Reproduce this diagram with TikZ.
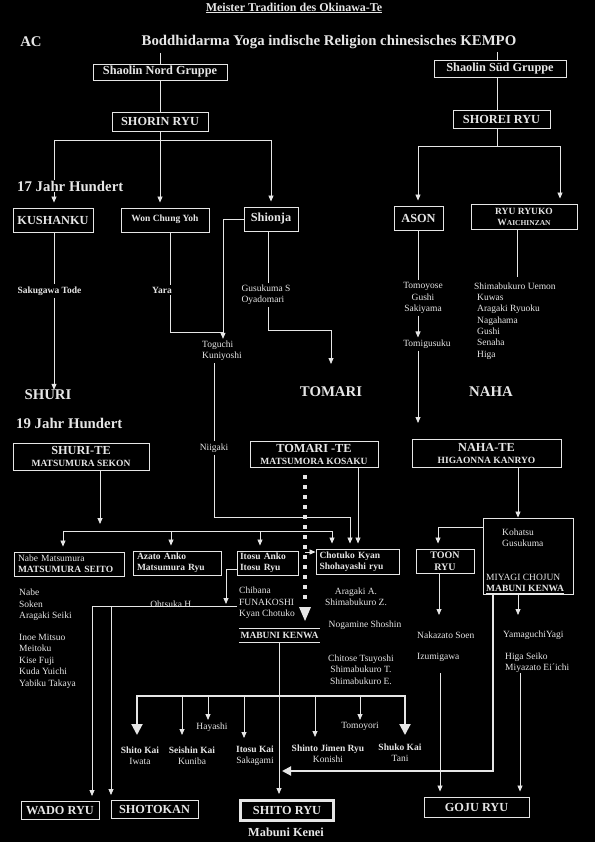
\documentclass[tikz,border=0pt]{standalone}
\usepackage{fontspec}
\setmainfont{Liberation Serif}
\usetikzlibrary{arrows.meta}
\definecolor{fg}{RGB}{230,230,230}
\begin{document}
\begin{tikzpicture}[x=1pt,y=-1pt,
  every node/.style={text=fg, inner sep=0pt},
  ln/.style={draw=fg, line width=0.8pt},
  ar/.style={ln, -{Triangle[width=5pt,length=6pt]}},
  arb/.style={ar, shorten >=5pt},
  thk/.style={draw=fg, line width=2pt},
  box/.style={draw=fg, line width=0.9pt, fill=black, align=center},
  fbig/.style={font=\fontsize{14.8}{16}\selectfont\bfseries},
  flab/.style={font=\fontsize{12.3}{13}\selectfont\bfseries},
  fsb/.style={font=\fontsize{9.5}{11}\selectfont\bfseries, inner ysep=2pt},
  fnm/.style={font=\fontsize{9.5}{11.3}\selectfont, inner ysep=2pt},
  ttl/.style={font=\fontsize{12}{13}\selectfont\bfseries},
]
\fill[black] (0,0) rectangle (595,842);
\useasboundingbox (0,0) rectangle (595,842);

% ---------- header ----------
\node[ttl] (title) at (294,8) {\underline{Meister Tradition des Okinawa-Te}};
\node[fbig] (ac) at (31,42) {AC};
\node[fbig] (bodh) at (329,42) {Boddhidarma Yoga indische Religion chinesisches KEMPO};

\node[box, flab, minimum width=134pt, minimum height=16pt] (nord) at (160,72) {Shaolin Nord Gruppe};
\node[box, flab, minimum width=132pt, minimum height=17pt] (sud) at (500,68.5) {Shaolin Süd Gruppe};
\coordinate (tk1) at (160,53);
\coordinate (tk2) at (497,52);
\coordinate (sv) at (497,90);
\draw[ln] (tk1) -- (nord.north);
\draw[ln] (tk2) -- (tk2 |- sud.north);

\node[box, flab, minimum width=96pt, minimum height=19pt] (shorin) at (160,121.5) {SHORIN RYU};
\node[box, flab, minimum width=97pt, minimum height=18pt] (shorei) at (501.5,119) {SHOREI RYU};
\draw[ln] (nord.south) -- (shorin.north);
\draw[ln] (sud.south -| sv) -- (sv |- shorei.north);

% ---------- 17th century row ----------
\node[box, flab, minimum width=80pt, minimum height=24pt] (kushanku) at (53,220) {KUSHANKU};
\node[box, fsb, minimum width=88pt, minimum height=24pt] (won) at (165,220) {\raisebox{3pt}{Won Chung Yoh}};
\node[box, flab, minimum width=54pt, minimum height=24pt] (shionja) at (271,219) {Shionja};
\node[box, flab, minimum width=49pt, minimum height=24pt] (ason) at (418.5,218) {ASON};
\node[box, font=\fontsize{9.5}{11}\selectfont\bfseries, minimum width=106pt, minimum height=25pt] (ryuryuko) at (524,216.5)
  {RYU RYUKO\\{\fontsize{9.5}{11}\selectfont W}{\fontsize{7.5}{11}\selectfont AICHINZAN}};

\coordinate (j1) at (160,140);
\coordinate (jL) at (54,140);
\coordinate (jR) at (271,140);
\draw[ln] (shorin.south) -- (j1);
\draw[ln] (jL) -- (jR);
\draw[arb] (jL) -- (jL |- kushanku.north);
\draw[arb] (j1) -- (j1 |- won.north);
\draw[arb] (jR) -- (jR |- shionja.north);
\node[fbig, fill=black, anchor=west, inner sep=1pt] (jh17) at (16,186) {17 Jahr Hundert};

\coordinate (s1) at (497,146);
\coordinate (sL) at (418,146);
\coordinate (sR) at (560,146);
\draw[ln] (shorei.south -| s1) -- (s1);
\draw[ln] (sL) -- (sR);
\draw[arb] (sL) -- (sL |- ason.north);
\draw[arb] (sR) -- (sR |- ryuryuko.north);

% ---------- lineages ----------
\node[fsb] (sakugawa) at (49.5,291) {Sakugawa Tode};
\node[fbig] (shuri) at (48,395) {SHURI};
\draw[ln] (kushanku.south -| jL) -- (jL |- sakugawa.north);
\draw[ar] (sakugawa.south -| jL) -- (jL |- shuri.north);

\node[fsb] (yara) at (162,290) {Yara};
\node[fnm, align=left] (toguchi) at (222,351) {Toguchi\\Kuniyoshi};
\coordinate (yx) at (170,300);
\coordinate (tg) at (223,332);
\draw[ln] (won.south -| yx) -- (yara.north -| yx);
\draw[ln] (yara.south -| yx) -- (yx |- tg) -- (tg);
\coordinate (sx) at (223,219);
\draw[ar] (shionja.west) -- (sx) -- (sx |- toguchi.north);

\node[fnm, align=left] (gusukuma) at (266,295) {Gusukuma S\\Oyadomari};
\node[fbig] (tomari) at (331,392) {TOMARI};
\coordinate (gx) at (268,330);
\coordinate (tm) at (331,330);
\coordinate (tm2) at (331,364);
\draw[ln] (shionja.south -| gx) -- (gx |- gusukuma.north);
\draw[ar] (gusukuma.south -| gx) -- (gx) -- (tm) -- (tm2);

\node[fnm, align=center] (tomoyose) at (423,298) {Tomoyose\\Gushi\\Sakiyama};
\node[fnm] (tomigusuku) at (427,344) {Tomigusuku};
\node[fbig] (naha) at (491,392) {NAHA};
\coordinate (ax) at (418,300);
\coordinate (nh) at (418,423);
\draw[ln] (ason.south -| ax) -- (ax |- tomoyose.north);
\draw[ar] (tomoyose.south -| ax) -- (ax |- tomigusuku.north);
\draw[ar] (tomigusuku.south -| ax) -- (nh);

\coordinate (rx) at (517,277);
\draw[ln] (ryuryuko.south -| rx) -- (rx);
\node[fnm, align=left, anchor=west] (uemon) at (474,321)
  {Shimabukuro Uemon\\\hspace*{3pt}Kuwas\\\hspace*{3pt}Aragaki Ryuoku\\\hspace*{3pt}Nagahama\\\hspace*{3pt}Gushi\\\hspace*{3pt}Senaha\\\hspace*{3pt}Higa};

% ---------- 19th century ----------
\node[fbig, anchor=west] (jh19) at (16,423) {19 Jahr Hundert};
\node[box, font=\fontsize{9.5}{12}\selectfont\bfseries, minimum width=136pt, minimum height=27pt] (shurite) at (81,456.5)
  {{\fontsize{12.3}{12}\selectfont SHURI-TE}\\MATSUMURA SEKON};
\node[box, font=\fontsize{9.5}{12}\selectfont\bfseries, minimum width=128pt, minimum height=26pt] (tomarite) at (314,454)
  {{\fontsize{12.3}{12}\selectfont TOMARI -TE}\\MATSUMORA KOSAKU};
\node[box, font=\fontsize{9.5}{12}\selectfont\bfseries, minimum width=149pt, minimum height=28pt] (nahate) at (486.5,453)
  {{\fontsize{12.3}{12}\selectfont NAHA-TE}\\HIGAONNA KANRYO};

\node[fnm] (niigaki) at (214,448) {Niigaki};
\draw[ln] (toguchi.south -| niigaki.north) -- (niigaki.north);

% ---------- second level boxes ----------
\node[box, fsb, align=left, text width=102pt, minimum width=110pt, minimum height=24pt] (seito) at (69,564)
  {{\mdseries Nabe Matsumura}\\MATSUMURA SEITO};
\node[box, fsb, align=left, text width=80pt, minimum width=88pt, minimum height=24pt] (azato) at (177,563)
  {Azato Anko\\Matsumura Ryu};
\node[box, fsb, align=left, text width=55pt, minimum width=61pt, minimum height=24pt] (itosu) at (267.5,563)
  {Itosu Anko\\Itosu Ryu};
\node[box, fsb, align=left, text width=76pt, minimum width=83pt, minimum height=25pt] (chotuko) at (357.5,561.5)
  {Chotuko Kyan\\Shohayashi ryu};

% SHURI-TE distribution
\coordinate (sd) at (100,524);
\draw[ar] (shurite.south -| sd) -- (sd);
\coordinate (h1) at (63,531);
\coordinate (h2) at (171,531);
\coordinate (h3) at (260,531);
\coordinate (h4) at (332,531);
\draw[ln] (h1) -- (h4);
\draw[arb] (h1) -- (h1 |- seito.north);
\draw[arb] (h2) -- (h2 |- azato.north);
\draw[arb] (h3) -- (h3 |- itosu.north);
\draw[arb] (h4) -- (h4 |- chotuko.north);

% Niigaki line
\coordinate (nb) at (214,517);
\coordinate (nc) at (350,517);
\draw[arb] (niigaki.south) -- (nb) -- (nc) -- (nc |- chotuko.north);
% TOMARI-TE right line
\coordinate (tr) at (358,500);
\draw[arb] (tomarite.south -| tr) -- (tr |- chotuko.north);

% dotted line of TOMARI-TE
\coordinate (d1) at (305,475);
\coordinate (d2) at (305,604);
\draw[fg, line width=4pt, dash pattern=on 4pt off 6pt] (d1) -- (d2);
\coordinate (dt1) at (299,607);
\coordinate (dt2) at (311,607);
\coordinate (dt3) at (305,621);
\fill[fg] (dt1) -- (dt2) -- (dt3) -- cycle;
\coordinate (dr) at (305,552);
\draw[ar] (dr) -- (dr -| chotuko.west);

% Itosu -> Funakoshi / Ohtsuka
\coordinate (il) at (226,569);
\coordinate (ib) at (226,604);
\draw[ar] (itosu.west |- il) -- (il) -- (ib);
\coordinate (o1) at (92,606);
\coordinate (o3) at (111,606);
\coordinate (o2) at (237,606);
\draw[ln] (o1) -- (o2);
\node[fnm] (ohtsuka) at (172,604) {Ohtsuka H.};

\node[fnm, align=left, anchor=west] (chibana) at (239,603) {Chibana\\FUNAKOSHI\\Kyan Chotuko};
\node[fsb, minimum width=81pt, minimum height=13pt] (mabuni) at (279.5,635.5) {MABUNI KENWA};
\draw[ln] (mabuni.north west) -- (mabuni.north east);
\draw[ln] (mabuni.south west) -- (mabuni.south east);

% left lists
\node[fnm, align=left, anchor=west] (nabe) at (19,605) {Nabe\\Soken\\Aragaki Seiki};
\node[fnm, align=left, anchor=west, font=\fontsize{9.5}{11.5}\selectfont] (inoe) at (19,661) {Inoe Mitsuo\\Meitoku\\Kise Fuji\\Kuda Yuichi\\Yabiku Takaya};

% middle lists
\node[fnm, align=center] (aragaki) at (356,596.5) {Aragaki A.\\Shimabukuro Z.};
\node[fnm] (nogamine) at (365,625) {Nogamine Shoshin};
\node[fnm, align=center] (chitose) at (361,669.5) {Chitose Tsuyoshi\\Shimabukuro T.\\Shimabukuro E.};

% ---------- Naha branch ----------
\node[box, minimum width=90pt, minimum height=76pt] (miyagi) at (528,556) {};
\node[fnm, align=left, anchor=west] (kohatsu) at (502,537.5) {Kohatsu\\Gusukuma};
\node[fnm, align=left, anchor=west] (chojun) at (486,584) {MIYAGI CHOJUN\\\textbf{\underline{MABUNI KENWA}}};
\coordinate (nx) at (518,500);
\draw[ar] (nahate.south -| nx) -- (nx |- miyagi.north);

\node[box, align=center, font=\fontsize{10}{12}\selectfont\bfseries, minimum width=58pt, minimum height=24pt] (toon) at (445,561) {TOON\\RYU};
\coordinate (tl) at (438,527);
\draw[arb] (miyagi.west |- tl) -- (tl) -- (tl |- toon.north);

\coordinate (tx) at (439,615);
\draw[ar] (toon.south -| tx) -- (tx);
\node[fnm, anchor=west] (nakazato) at (417,635) {Nakazato Soen};
\node[fnm, anchor=west] (izumigawa) at (417,657) {Izumigawa};

\coordinate (mb) at (518,615);
\draw[ar] (miyagi.south -| mb) -- (mb);
\node[fnm, anchor=west] (yamaguchi) at (503,635) {YamaguchiYagi};
\node[fnm, align=left, anchor=west] (higa) at (505,662.5) {Higa Seiko\\Miyazato Ei´ichi};

% ---------- final styles ----------
\node[box, flab, minimum width=78pt, minimum height=18pt] (wado) at (60,810.5) {WADO RYU};
\node[box, flab, minimum width=87pt, minimum height=18pt] (shotokan) at (154.5,809.5) {SHOTOKAN};
\node[draw=fg, line width=3pt, fill=black, flab, minimum width=93pt, minimum height=20pt] (shitoryu) at (287,810.5) {SHITO RYU};
\node[flab] (kenei) at (286,832) {Mabuni Kenei};
\node[box, flab, minimum width=105pt, minimum height=20pt] (goju) at (476.5,807) {GOJU RYU};

\draw[arb] (o1) -- (o1 |- wado.north);
\draw[arb] (o3) -- (o3 |- shotokan.north);

\coordinate (ix) at (440,673);
\draw[arb] (ix) -- (ix |- goju.north);
\coordinate (hx) at (520,673);
\draw[arb] (hx) -- (hx |- goju.north);

% MABUNI -> SHITO RYU
\coordinate (mx) at (279,696);
\draw[arb] (mabuni.south -| mx) -- (mx |- shitoryu.north);

% Kai bracket
\coordinate (b1) at (137,696);
\coordinate (b2) at (405,696);
\coordinate (e1) at (137,735);
\coordinate (e2) at (405,735);
\draw[thk, {Triangle[width=11pt,length=11pt]}-{Triangle[width=11pt,length=11pt]}] (e1) -- (b1) -- (b2) -- (e2);

\node[fsb, align=center] (shitokai) at (140,756) {Shito Kai\\{\mdseries Iwata}};
\node[fsb, align=center] (seishin) at (192,756) {Seishin Kai\\{\mdseries Kuniba}};
\node[fnm] (hayashi) at (212,727) {Hayashi};
\node[fsb, align=center] (itosukai) at (255,756) {Itosu Kai\\{\mdseries Sakagami}};
\node[fsb, align=center] (shinto) at (328,754) {Shinto Jimen Ryu\\{\mdseries Konishi}};
\node[fnm] (tomoyori) at (360,726) {Tomoyori};
\node[fsb, align=center] (shuko) at (400,753) {Shuko Kai\\{\mdseries Tani}};

\coordinate (a1) at (182,735);
\coordinate (a2) at (208,720);
\coordinate (a3) at (244,738);
\coordinate (a4) at (315,737);
\coordinate (a5) at (360,720);
\draw[ar] (a1 |- b1) -- (a1);
\draw[ar] (a2 |- b1) -- (a2);
\draw[ar] (a3 |- b1) -- (a3);
\draw[ar] (a4 |- b1) -- (a4);
\draw[ar] (a5 |- b1) -- (a5);

% MIYAGI -> SHITO RYU thick line
\coordinate (m1) at (493,771);
\coordinate (m2) at (282,771);
\draw[thk, -{Triangle[width=9pt,length=9pt]}] (miyagi.south -| m1) -- (m1) -- (m2);
\end{tikzpicture}
\end{document}
